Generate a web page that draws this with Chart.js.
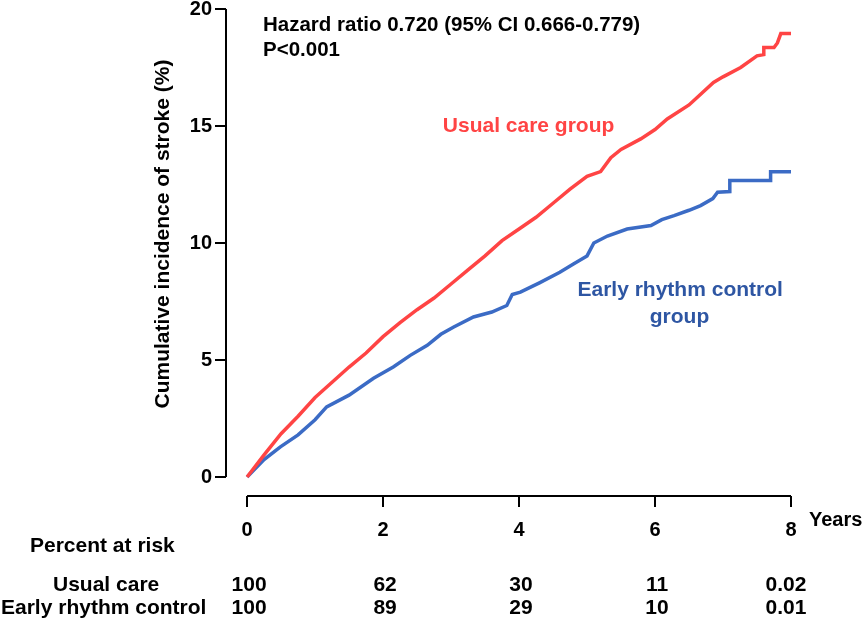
<!DOCTYPE html>
<html>
<head>
<meta charset="utf-8">
<script src="https://cdn.jsdelivr.net/npm/chart.js@4"></script>
<style>
  html, body { margin: 0; padding: 0; background: #fff; }
  #wrap { width: 865px; height: 623px; }
</style>
</head>
<body>
<div id="wrap"><canvas id="kmChart"></canvas></div>
<script>
// years / cumulative incidence (%)
const usualYears = [0, 0.25, 0.5, 0.75, 1.0, 1.25, 1.5, 1.75, 2.0, 2.25, 2.5, 2.75, 3.0, 3.25, 3.5, 3.75, 4.0, 4.25, 4.5, 4.75, 5.0, 5.2, 5.35, 5.5, 5.79, 6.0, 6.18, 6.5, 6.86, 7.0, 7.26, 7.5, 7.6, 7.6, 7.75, 7.8, 7.85, 8.0];
const usualPct   = [0, 0.95, 1.85, 2.6, 3.4, 4.05, 4.7, 5.3, 6.0, 6.6, 7.15, 7.65, 8.25, 8.85, 9.45, 10.1, 10.6, 11.1, 11.7, 12.3, 12.85, 13.05, 13.65, 14.0, 14.45, 14.85, 15.3, 15.9, 16.86, 17.1, 17.5, 18.0, 18.05, 18.35, 18.35, 18.55, 18.95, 18.95];

const earlyYears = [0, 0.25, 0.49, 0.75, 1.0, 1.17, 1.5, 1.86, 2.15, 2.4, 2.65, 2.85, 3.04, 3.33, 3.6, 3.82, 3.9, 4.02, 4.3, 4.6, 4.8, 5.0, 5.1, 5.3, 5.59, 5.94, 6.1, 6.28, 6.5, 6.67, 6.85, 6.92, 7.1, 7.1, 7.7, 7.7, 8.0];
const earlyPct   = [0, 0.75, 1.29, 1.8, 2.45, 3.0, 3.5, 4.22, 4.7, 5.2, 5.63, 6.1, 6.41, 6.84, 7.05, 7.33, 7.8, 7.9, 8.3, 8.75, 9.1, 9.45, 10.0, 10.3, 10.6, 10.75, 11.0, 11.17, 11.4, 11.6, 11.9, 12.17, 12.2, 12.67, 12.67, 13.05, 13.05];

const xTicks = [0, 2, 4, 6, 8];
const yTicks = [0, 5, 10, 15, 20];

const riskRows = ['Usual care', 'Early rhythm control'];
const riskUsual = ['100', '62', '30', '11', '0.02'];
const riskEarly = ['100', '89', '29', '10', '0.01'];

const RED = '#ff4444';
const BLUE = '#3b6bc5';
const BLUE_TEXT = '#2e56a3';
const FONT = '"Liberation Sans", Arial, sans-serif';

const toPoints = (xs, ys) => xs.map((x, i) => ({ x: x, y: ys[i] }));

// axis lines, annotations and the at-risk table
const extras = {
    id: 'extras',
    afterDraw(chart) {
        const ctx = chart.ctx;
        const xs = chart.scales.x;
        const ys = chart.scales.y;
        const area = chart.chartArea;

        ctx.save();
        ctx.strokeStyle = '#000';
        ctx.lineWidth = 2;
        ctx.beginPath();
        ctx.moveTo(xs.getPixelForValue(0), area.bottom);
        ctx.lineTo(xs.getPixelForValue(8), area.bottom);
        ctx.moveTo(area.left, ys.getPixelForValue(0));
        ctx.lineTo(area.left, ys.getPixelForValue(20));
        ctx.stroke();

        ctx.fillStyle = '#000';
        ctx.textBaseline = 'middle';
        ctx.textAlign = 'left';
        ctx.font = 'bold 20.5px ' + FONT;
        ctx.fillText('Hazard ratio 0.720 (95% CI 0.666-0.779)', 263, 25);
        ctx.fillText('P<0.001', 263, 50);
        ctx.font = 'bold 20px ' + FONT;
        ctx.fillText('Years', 809, 520);

        // group labels
        ctx.font = 'bold 21px ' + FONT;
        ctx.fillStyle = RED;
        ctx.textAlign = 'center';
        ctx.fillText('Usual care group', xs.getPixelForValue(4.14), ys.getPixelForValue(15.0));
        ctx.fillStyle = BLUE_TEXT;
        ctx.fillText('Early rhythm control', xs.getPixelForValue(6.37), ys.getPixelForValue(8.0));
        ctx.fillText('group', xs.getPixelForValue(6.36), ys.getPixelForValue(6.85));

        // y title
        ctx.fillStyle = '#000';
        ctx.font = 'bold 21px ' + FONT;
        ctx.save();
        ctx.translate(163, 234);
        ctx.rotate(-Math.PI / 2);
        ctx.fillText('Cumulative incidence of stroke (%)', 0, 0);
        ctx.restore();

        // percent at risk table
        ctx.textAlign = 'left';
        ctx.fillText('Percent at risk', 30, 546);
        ctx.fillText(riskRows[0], 53, 585);
        ctx.fillText(riskRows[1], 1, 608);
        ctx.textAlign = 'center';
        xTicks.forEach((t, i) => {
            const px = xs.getPixelForValue(t) + (i === 4 ? -5 : 2);
            ctx.fillText(riskUsual[i], px, 585);
            ctx.fillText(riskEarly[i], px, 608);
        });
        ctx.restore();
    }
};

const ctx = document.getElementById('kmChart').getContext('2d');
new Chart(ctx, {
    type: 'line',
    data: {
        datasets: [
            {
                label: 'Usual care group',
                data: toPoints(usualYears, usualPct),
                borderColor: RED,
                borderWidth: 3.5,
                pointRadius: 0,
                tension: 0,
                fill: false
            },
            {
                label: 'Early rhythm control group',
                data: toPoints(earlyYears, earlyPct),
                borderColor: BLUE,
                borderWidth: 3.5,
                pointRadius: 0,
                tension: 0,
                fill: false
            }
        ]
    },
    options: {
        responsive: true,
        maintainAspectRatio: false,
        animation: false,
        layout: { padding: { left: 146, right: 74, top: 9, bottom: 0 } },
        plugins: {
            legend: { display: false },
            tooltip: { enabled: false }
        },
        scales: {
            x: {
                type: 'linear',
                min: -0.31,
                max: 8,
                afterBuildTicks: (s) => { s.ticks = xTicks.map(v => ({ value: v })); },
                afterFit: (s) => { s.height = 127; },
                border: { display: false },
                grid: { drawOnChartArea: false, drawTicks: true, tickLength: 11, color: '#000', lineWidth: 2 },
                ticks: { color: '#000', padding: 11, maxRotation: 0, font: { family: FONT, size: 20, weight: 'bold' } }
            },
            y: {
                min: -0.81,
                max: 20,
                afterBuildTicks: (s) => { s.ticks = yTicks.map(v => ({ value: v })); },
                afterFit: (s) => { s.width = 80; },
                border: { display: false },
                grid: { drawOnChartArea: false, drawTicks: true, tickLength: 11, color: '#000', lineWidth: 2 },
                ticks: { color: '#000', padding: 3, font: { family: FONT, size: 20, weight: 'bold', lineHeight: 0.6 } }
            }
        }
    },
    plugins: [extras]
});
</script>
</body>
</html>
